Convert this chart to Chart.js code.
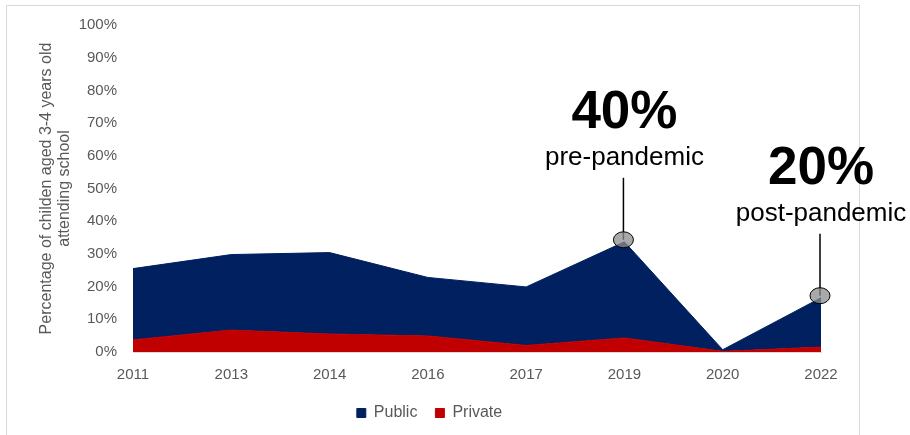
<!DOCTYPE html>
<html>
<head>
<meta charset="utf-8">
<script src="https://cdn.jsdelivr.net/npm/chart.js@4"></script>
<style>
  html, body { margin: 0; padding: 0; background: #ffffff; }
  #wrap { width: 910px; height: 435px; position: relative; }
</style>
</head>
<body>
<div id="wrap"><canvas id="myChart"></canvas></div>
<script>
const years = ['2011', '2013', '2014', '2016', '2017', '2019', '2020', '2022'];
const publicShare = [21.8, 23.1, 24.9, 17.9, 17.9, 29.4, 0.5, 15.1];
const privateShare = [3.7, 6.7, 5.5, 4.9, 2.0, 4.3, 0.2, 1.5];
const yTicks = [0, 10, 20, 30, 40, 50, 60, 70, 80, 90, 100];

// callouts on the stacked total
const callouts = [
    { index: 5, big: '40%', small: 'pre-pandemic' },
    { index: 7, big: '20%', small: 'post-pandemic' }
];

const NAVY = '#002060';
const RED = '#c00000';
const GREY_TEXT = '#595959';
const FONT = '"Liberation Sans", Arial, sans-serif';

// thin frame around the chart
const framePlugin = {
    id: 'frame',
    beforeDraw(chart) {
        const ctx = chart.ctx;
        ctx.save();
        ctx.strokeStyle = '#d9d9d9';
        ctx.lineWidth = 1;
        ctx.strokeRect(6.5, 5.5, 853, 450);
        ctx.restore();
    }
};

const calloutPlugin = {
    id: 'callouts',
    afterDatasetsDraw(chart) {
        const ctx = chart.ctx;
        const x = chart.scales.x;
        const y = chart.scales.y;
        ctx.save();
        callouts.forEach(c => {
            const total = publicShare[c.index] + privateShare[c.index];
            const px = x.getPixelForValue(c.index);
            const py = y.getPixelForValue(total);
            const cx = px - 1;
            const cy = py - 2;

            // leader line
            ctx.strokeStyle = '#000000';
            ctx.lineWidth = 1.5;
            ctx.beginPath();
            ctx.moveTo(cx, cy - 62);
            ctx.lineTo(cx, cy);
            ctx.stroke();

            // marker
            ctx.beginPath();
            ctx.ellipse(cx, cy, 10, 8, 0, 0, Math.PI * 2);
            ctx.fillStyle = 'rgba(140,140,140,0.75)';
            ctx.fill();
            ctx.lineWidth = 1;
            ctx.strokeStyle = '#000000';
            ctx.stroke();

            ctx.fillStyle = '#000000';
            ctx.textAlign = 'center';
            ctx.textBaseline = 'alphabetic';
            ctx.font = 'bold 53px ' + FONT;
            ctx.fillText(c.big, px, py - 114);
            ctx.font = '26px ' + FONT;
            ctx.fillText(c.small, px, py - 77);
        });
        ctx.restore();
    }
};

const ctx = document.getElementById('myChart').getContext('2d');
new Chart(ctx, {
    type: 'line',
    data: {
        labels: years,
        datasets: [
            {
                label: 'Private',
                data: privateShare,
                backgroundColor: RED,
                borderColor: RED,
                borderWidth: 1,
                fill: 'origin',
                pointRadius: 0,
                tension: 0
            },
            {
                label: 'Public',
                data: publicShare,
                backgroundColor: NAVY,
                borderColor: NAVY,
                borderWidth: 1,
                fill: '-1',
                pointRadius: 0,
                tension: 0
            }
        ]
    },
    options: {
        responsive: true,
        maintainAspectRatio: false,
        animation: false,
        layout: { padding: { left: 38, right: 89, top: 23, bottom: 4 } },
        scales: {
            x: {
                offset: false,
                afterFit(scale) {
                    scale.height = 35;
                },
                grid: { display: false, drawTicks: false },
                border: { display: true, color: '#d9d9d9' },
                ticks: {
                    color: GREY_TEXT,
                    padding: 14,
                    maxRotation: 0,
                    font: { family: FONT, size: 15 }
                }
            },
            y: {
                stacked: true,
                min: 0,
                max: 100,
                afterBuildTicks(scale) {
                    scale.ticks = yTicks.map(v => ({ value: v }));
                },
                afterFit(scale) {
                    scale.width = 95;
                },
                grid: { display: false, drawTicks: false },
                border: { display: false },
                ticks: {
                    color: GREY_TEXT,
                    padding: 16,
                    font: { family: FONT, size: 15 },
                    callback: v => v + '%'
                },
                title: {
                    display: true,
                    text: ['Percentage of childen aged 3-4 years old', 'attending school'],
                    color: GREY_TEXT,
                    padding: 0,
                    font: { family: FONT, size: 16, lineHeight: 1.1 }
                }
            }
        },
        plugins: {
            legend: {
                position: 'bottom',
                reverse: true,
                labels: {
                    color: GREY_TEXT,
                    boxWidth: 9,
                    boxHeight: 9,
                    padding: 18,
                    font: { family: FONT, size: 16 }
                }
            },
            tooltip: { enabled: false }
        }
    },
    plugins: [framePlugin, calloutPlugin]
});
</script>
</body>
</html>
